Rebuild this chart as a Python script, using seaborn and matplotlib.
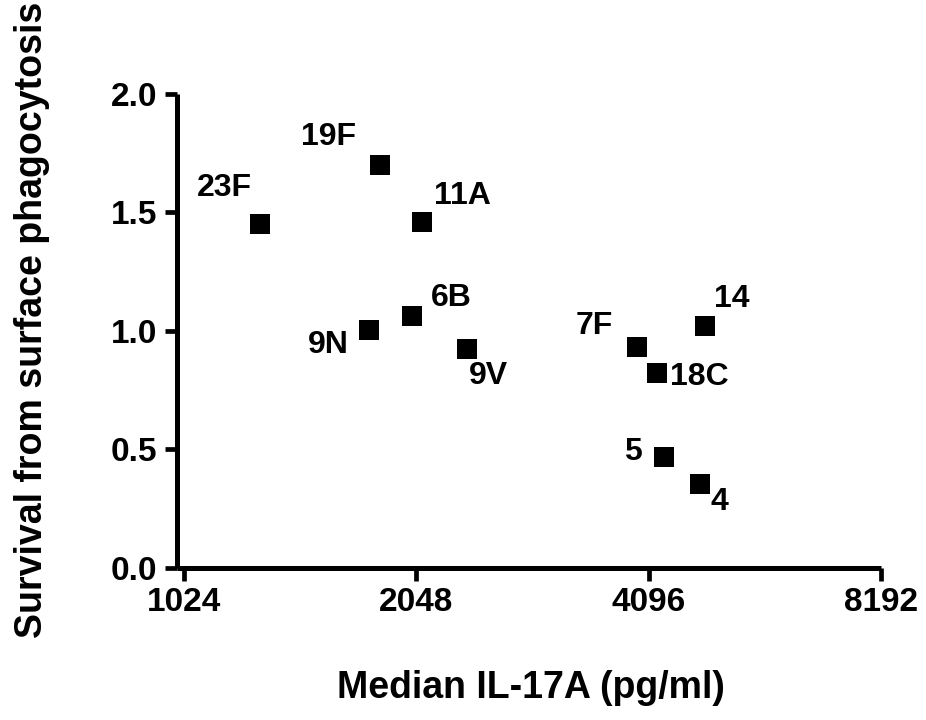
import numpy as np
import pandas as pd
import matplotlib
matplotlib.use("Agg")
import matplotlib.pyplot as plt
import seaborn as sns

# ---- data ----
serotypes = ["23F", "19F", "11A", "6B", "9N", "9V", "7F", "18C", "14", "5", "4"]
il17a = [1285, 1838, 2083, 2024, 1778, 2382, 3959, 4195, 4841, 4280, 4770]
survival = [1.451, 1.698, 1.461, 1.063, 1.004, 0.925, 0.934, 0.824, 1.022, 0.470, 0.353]
x_ticks = [1024, 2048, 4096, 8192]
y_ticks = [0.0, 0.5, 1.0, 1.5, 2.0]

# label offsets (pixels, dx right, dy down) relative to marker centre
label_offsets = {
    "23F": (-35.5, -40), "19F": (-52, -32), "11A": (40, -28.7), "6B": (39, -21),
    "9N": (-40.5, 11.7), "9V": (21.3, 23.6), "7F": (-43.3, -24), "18C": (42.3, 1.3),
    "14": (26.8, -30.7), "5": (-31, -7.7), "4": (19.3, 14),
}

df = pd.DataFrame({"serotype": serotypes, "il17a": il17a, "survival": survival})

sns.set_style("ticks")
plt.rcParams["font.family"] = ["Liberation Sans", "DejaVu Sans"]
plt.rcParams["font.weight"] = "bold"
plt.rcParams["text.color"] = "black"
plt.rcParams["axes.edgecolor"] = "black"
plt.rcParams["xtick.color"] = "black"
plt.rcParams["ytick.color"] = "black"
plt.rcParams["xtick.labelcolor"] = "black"
plt.rcParams["ytick.labelcolor"] = "black"

W, H = 926, 720
fig = plt.figure(figsize=(W / 100, H / 100), dpi=100)
ax_left, ax_right = 177, 893
ax_bottom, ax_top = 568, 82
ax = fig.add_axes([ax_left / W, 1 - ax_bottom / H, (ax_right - ax_left) / W, (ax_bottom - ax_top) / H])

sns.scatterplot(data=df, x="il17a", y="survival", marker="s", s=190, color="black",
                linewidth=0, ax=ax, legend=False, zorder=3)

ax.set_xscale("log", base=2)
ax.set_xlim(2 ** 9.97, 2 ** 13.05)
ax.set_ylim(0, 2.05)
ax.set_xticks(x_ticks)
ax.set_xticklabels([str(t) for t in x_ticks])
ax.xaxis.set_minor_locator(matplotlib.ticker.NullLocator())
ax.set_yticks(y_ticks)
ax.set_yticklabels([f"{t:.1f}" for t in y_ticks])

for side in ["top", "right"]:
    ax.spines[side].set_visible(False)
for side in ["left", "bottom"]:
    ax.spines[side].set_linewidth(3.6)
    ax.spines[side].set_color("black")
    ax.spines[side].set_capstyle("butt")
ax.spines["left"].set_bounds(0, 2.0)
ax.spines["bottom"].set_bounds(2 ** 9.97, 8192)

ax.tick_params(axis="both", which="major", length=9, width=3.4, direction="out",
               labelsize=24, pad=5, color="black", labelcolor="black")
for lab in ax.get_xticklabels() + ax.get_yticklabels():
    lab.set_fontweight("bold")
ax.set_xlabel("")
ax.set_ylabel("")

cap_half = 11.5  # px, half cap height of labels
for s, x, y in zip(serotypes, il17a, survival):
    dx, dy = label_offsets[s]
    ax.annotate(s, (x, y), xytext=(dx * 0.72, -(dy + cap_half) * 0.72), textcoords="offset points",
                ha="center", va="baseline", fontsize=23, fontweight="bold", color="black")

fig.text(531 / W, 1 - 698 / H, "Median IL-17A (pg/ml)", ha="center", va="baseline",
         fontsize=27, fontweight="bold", color="black")
fig.text(32 / W, 1 - 320 / H, "Survival from surface phagocytosis", ha="center", va="center",
         rotation=90, fontsize=27, fontweight="bold", color="black")

fig.savefig("out.png", dpi=100, facecolor="white")
